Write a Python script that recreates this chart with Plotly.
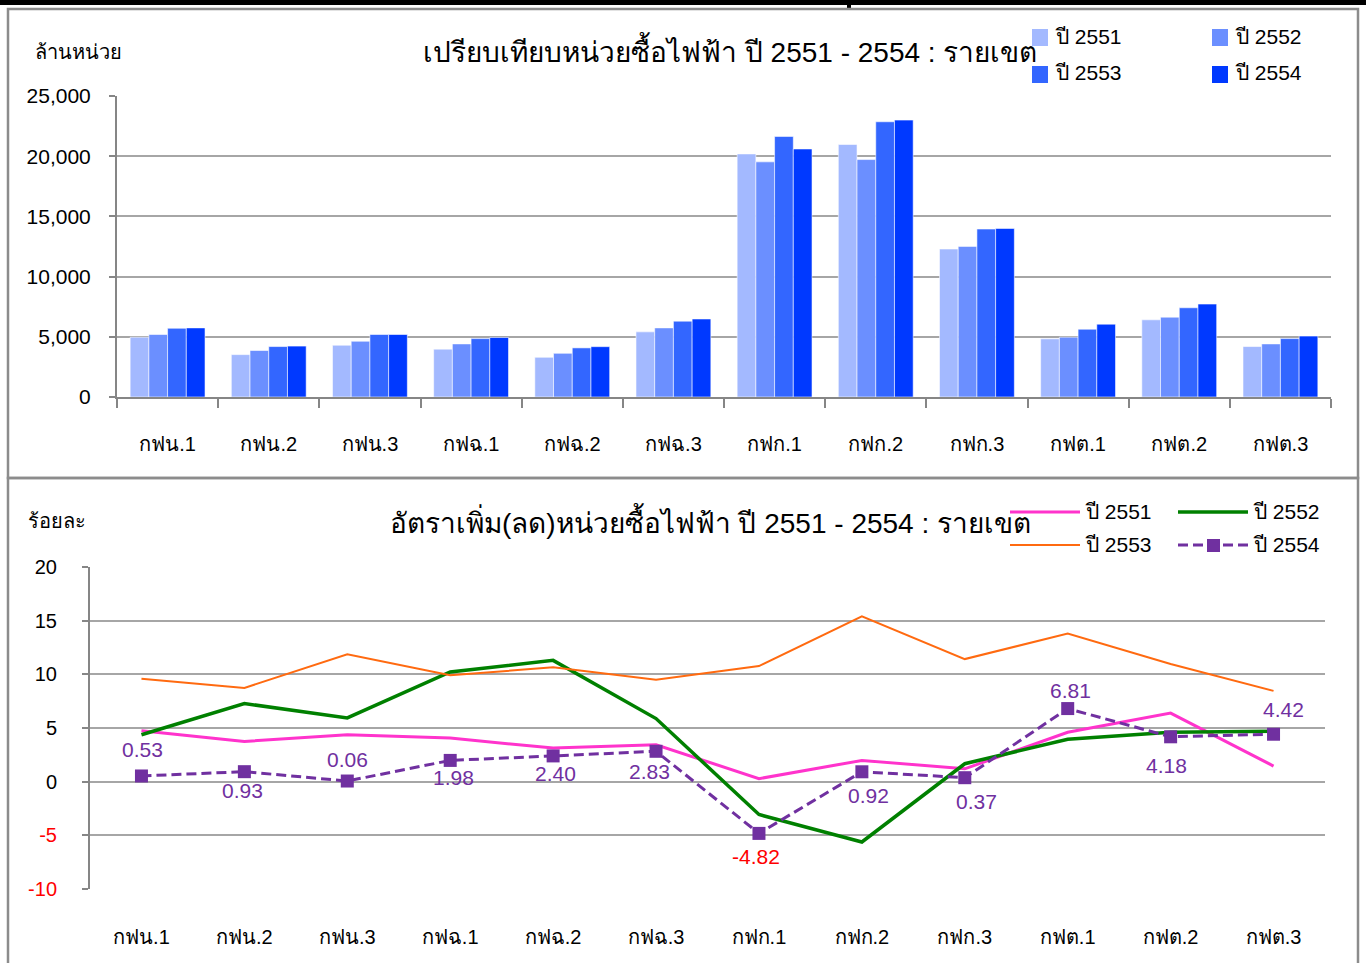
import plotly.graph_objects as go

W, H = 1366, 963

categories = ["กฟน.1", "กฟน.2", "กฟน.3", "กฟฉ.1", "กฟฉ.2", "กฟฉ.3",
              "กฟก.1", "กฟก.2", "กฟก.3", "กฟต.1", "กฟต.2", "กฟต.3"]
years = ["ปี 2551", "ปี 2552", "ปี 2553", "ปี 2554"]

# purchased units (million units)
units_2551 = [4965, 3520, 4300, 3970, 3300, 5410, 20190, 20970, 12290, 4830, 6410, 4190]
units_2552 = [5190, 3860, 4630, 4410, 3630, 5740, 19530, 19720, 12510, 4970, 6630, 4410]
units_2553 = [5710, 4190, 5190, 4850, 4080, 6300, 21640, 22860, 13950, 5630, 7410, 4850]
units_2554 = [5740, 4230, 5190, 4940, 4180, 6480, 20600, 23000, 14000, 6050, 7720, 5060]

# growth rates (%)
rate_2551 = [4.74, 3.75, 4.37, 4.06, 3.13, 3.44, 0.28, 1.98, 1.20, 4.60, 6.39, 1.45]
rate_2552 = [4.37, 7.28, 5.94, 10.22, 11.30, 5.88, -3.06, -5.62, 1.67, 3.95, 4.60, 4.69]
rate_2553 = [9.60, 8.73, 11.86, 9.91, 10.65, 9.50, 10.77, 15.40, 11.42, 13.80, 10.96, 8.46]
rate_2554 = [0.53, 0.93, 0.06, 1.98, 2.40, 2.83, -4.82, 0.92, 0.37, 6.81, 4.18, 4.42]

bar_ticks = [0, 5000, 10000, 15000, 20000, 25000]
rate_ticks = [-10, -5, 0, 5, 10, 15, 20]

# styles
FONT = "Tahoma, 'Liberation Sans', Arial, sans-serif"
bar_colors = ["#A3B9FF", "#6B8FFF", "#3366FF", "#0039FF"]
line_colors = ["#FF33CC", "#008000", "#FF6A10", "#7030A0"]
line_widths = [3, 3.5, 2, 3]
label_dy = [-26, 19, -22, 17, 18, 20, 23, 24, 24, -18, 29, -25]
label_dx = [1, -2, 0, 3, 2, -7, -3, 7, 12, 3, -4, 10]
GRID = "#A6A6A6"
AXIS = "#868686"


def px(x):
    return x / W


def py(y):
    return 1 - y / H


fig = go.Figure()

units = [units_2551, units_2552, units_2553, units_2554]
for name, vals, col in zip(years, units, bar_colors):
    fig.add_trace(go.Bar(x=categories, y=vals, name=name, marker_color=col,
                         marker_line=dict(color="rgba(255,255,255,0.7)", width=0.8),
                         xaxis="x", yaxis="y", showlegend=False))

rates = [rate_2551, rate_2552, rate_2553, rate_2554]
for i, (name, vals) in enumerate(zip(years, rates)):
    if i == 3:
        fig.add_trace(go.Scatter(x=categories, y=vals, name=name, mode="lines+markers",
                                 line=dict(color=line_colors[i], width=line_widths[i], dash="10px,5px"),
                                 marker=dict(symbol="square", size=13, color=line_colors[i]),
                                 xaxis="x2", yaxis="y2", showlegend=False))
    else:
        fig.add_trace(go.Scatter(x=categories, y=vals, name=name, mode="lines",
                                 line=dict(color=line_colors[i], width=line_widths[i]),
                                 xaxis="x2", yaxis="y2", showlegend=False))

annotations = []
# data labels for ปี 2554
for i, (c, v) in enumerate(zip(categories, rate_2554)):
    annotations.append(dict(x=c, y=v, xref="x2", yref="y2", text=f"{v:.2f}",
                            showarrow=False, xshift=label_dx[i], yshift=-label_dy[i],
                            xanchor="center", yanchor="middle",
                            font=dict(family=FONT, size=21,
                                      color="#FF0000" if v < 0 else line_colors[3])))

# titles / axis titles
annotations += [
    dict(x=px(730), y=py(50), xref="paper", yref="paper", showarrow=False,
         xanchor="center", yanchor="middle",
         text="เปรียบเทียบหน่วยซื้อไฟฟ้า ปี 2551 - 2554 : รายเขต",
         font=dict(family=FONT, size=28, color="black")),
    dict(x=px(33), y=py(52), xref="paper", yref="paper", showarrow=False,
         xanchor="left", yanchor="middle",
         text="ล้านหน่วย", font=dict(family=FONT, size=20, color="black")),
    dict(x=px(710), y=py(521), xref="paper", yref="paper", showarrow=False,
         xanchor="center", yanchor="middle",
         text="อัตราเพิ่ม(ลด)หน่วยซื้อไฟฟ้า ปี 2551 - 2554 : รายเขต",
         font=dict(family=FONT, size=28, color="black")),
    dict(x=px(26), y=py(521), xref="paper", yref="paper", showarrow=False,
         xanchor="left", yanchor="middle",
         text="ร้อยละ", font=dict(family=FONT, size=20, color="black")),
]

shapes = [
    # page top bar and panel frames
    dict(type="rect", xref="paper", yref="paper", x0=0, x1=1, y0=py(5), y1=1,
         fillcolor="black", line_width=0, layer="below"),
    dict(type="rect", xref="paper", yref="paper", x0=px(847), x1=px(851), y0=py(10), y1=1,
         fillcolor="black", line_width=0, layer="below"),
    dict(type="rect", xref="paper", yref="paper", x0=px(8), x1=px(1358), y0=py(478), y1=py(9),
         line=dict(color="#8C8C8C", width=2.5), layer="below"),
    dict(type="rect", xref="paper", yref="paper", x0=px(8), x1=px(1358), y0=py(990), y1=py(478),
         line=dict(color="#8C8C8C", width=2.5), layer="below"),
]

# legend of top chart
leg_top = [(1032, 37), (1212, 37), (1032, 74), (1212, 74)]
for (lx, ly), name, col in zip(leg_top, years, bar_colors):
    shapes.append(dict(type="rect", xref="paper", yref="paper", x0=px(lx), x1=px(lx + 16),
                       y0=py(ly + 9), y1=py(ly - 8), fillcolor=col, line_width=0))
    annotations.append(dict(x=px(lx + 21), y=py(ly - 1), xref="paper", yref="paper",
                            showarrow=False, xanchor="left", yanchor="middle", text=name,
                            font=dict(family=FONT, size=21, color="black")))

# legend of bottom chart
leg_bot = [(1010, 512), (1178, 512), (1010, 545), (1178, 545)]
for i, ((lx, ly), name) in enumerate(zip(leg_bot, years)):
    shapes.append(dict(type="line", xref="paper", yref="paper", x0=px(lx), x1=px(lx + 70),
                       y0=py(ly), y1=py(ly),
                       line=dict(color=line_colors[i], width=line_widths[i],
                                 dash="10px,5px" if i == 3 else "solid")))
    if i == 3:
        shapes.append(dict(type="rect", xref="paper", yref="paper", x0=px(lx + 29), x1=px(lx + 42),
                           y0=py(ly + 7), y1=py(ly - 6), fillcolor=line_colors[i], line_width=0))
    annotations.append(dict(x=px(lx + 73), y=py(ly - 1), xref="paper", yref="paper",
                            showarrow=False, xanchor="left", yanchor="middle", text=name,
                            font=dict(family=FONT, size=21, color="black")))

rate_ticktext = [f'<span style="color:#FF0000">{t}</span>' if t < 0 else str(t) for t in rate_ticks]

fig.update_layout(
    width=W, height=H, margin=dict(l=0, r=0, t=0, b=0, autoexpand=False),
    paper_bgcolor="white", plot_bgcolor="white",
    font=dict(family=FONT, color="black"),
    barmode="group", bargap=0.26, bargroupgap=0,
    xaxis=dict(domain=[px(117), px(1331)], anchor="y", type="category",
               categoryorder="array", categoryarray=categories, range=[-0.5, 11.5],
               showline=True, linecolor=AXIS, linewidth=2, showgrid=False,
               ticks="outside", tickson="boundaries", ticklen=9, tickcolor=AXIS, tickwidth=1.5,
               tickfont=dict(family=FONT, size=20), ticklabelstandoff=28, automargin=False),
    yaxis=dict(domain=[py(397), py(96)], anchor="x", range=[0, 25000],
               tickvals=bar_ticks, tickformat=",", showgrid=True, gridcolor=GRID, gridwidth=1.5,
               showline=True, linecolor=AXIS, linewidth=2, zeroline=False,
               ticks="outside", ticklen=6, tickcolor=AXIS, tickwidth=1.5,
               tickfont=dict(family=FONT, size=21), ticklabelstandoff=14, automargin=False),
    xaxis2=dict(domain=[px(90), px(1325)], anchor="y2", type="category",
                categoryorder="array", categoryarray=categories, range=[-0.5, 11.5],
                showline=False, showgrid=False, ticks="", zeroline=False,
                tickfont=dict(family=FONT, size=20), ticklabelstandoff=34, automargin=False),
    xaxis3=dict(overlaying="x2", anchor="free", position=py(782.5), type="category",
                categoryorder="array", categoryarray=categories, range=[-0.5, 11.5],
                showline=True, linecolor=AXIS, linewidth=2, showgrid=False,
                ticks="outside", tickson="boundaries", ticklen=9, tickcolor=AXIS, tickwidth=1.5,
                showticklabels=False, automargin=False),
    yaxis2=dict(domain=[py(889), py(567)], anchor="x2", range=[-10, 20],
                tickvals=rate_ticks, ticktext=rate_ticktext, showgrid=True, gridcolor=GRID,
                gridwidth=1.5, showline=True, linecolor=AXIS, linewidth=2, zeroline=False,
                ticks="outside", ticklen=6, tickcolor=AXIS, tickwidth=1.5,
                tickfont=dict(family=FONT, size=20), ticklabelstandoff=21, automargin=False),
    annotations=annotations, shapes=shapes,
)

fig.write_html("out.html", config={"displayModeBar": False},
               post_script="document.body.style.margin='0';document.body.style.overflow='hidden';")
